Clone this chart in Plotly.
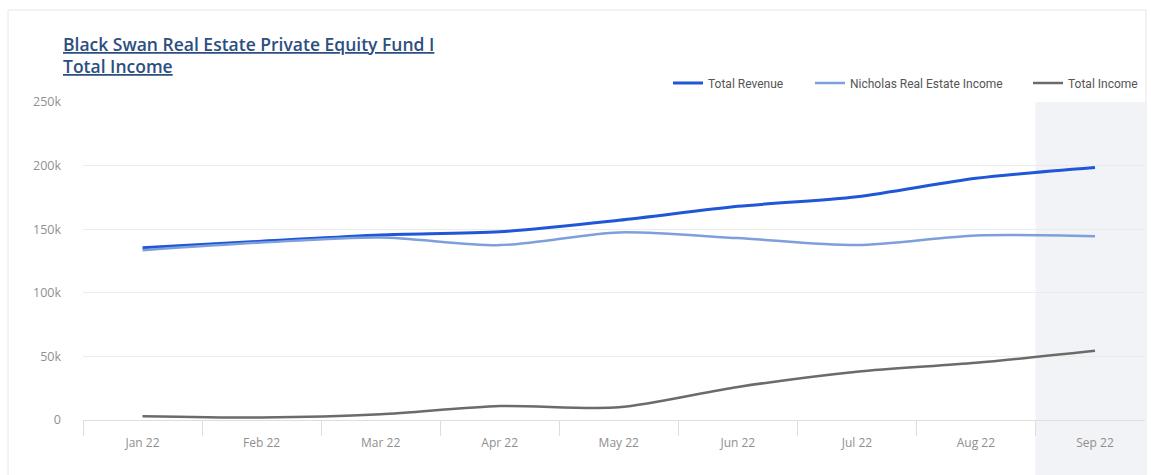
import plotly.graph_objects as go

months = ["Jan 22", "Feb 22", "Mar 22", "Apr 22", "May 22", "Jun 22", "Jul 22", "Aug 22", "Sep 22"]
total_revenue = [135500, 140500, 145500, 148000, 157000, 168000, 175500, 190000, 198500]
nicholas_income = [133500, 139500, 143500, 137500, 147500, 143000, 137500, 145000, 144500]
total_income = [3000, 2000, 4500, 11000, 10000, 26000, 38000, 45000, 54500]

W, H = 1151, 475
L, R, T, B = 83, 1145, 102, 420
pw, ph = R - L, B - T

def px_x(x):
    return (x - L) / pw

def px_y(y):
    return (B - y) / ph

fig = go.Figure()
fig.add_trace(go.Scatter(x=months, y=total_revenue, name="Total Revenue", mode="lines", legend="legend",
                         line=dict(color="#1f57d6", width=3, shape="spline", smoothing=0.8)))
fig.add_trace(go.Scatter(x=months, y=nicholas_income, name="Nicholas Real Estate Income", mode="lines",
                         legend="legend2",
                         line=dict(color="#7d9fdc", width=2.5, shape="spline", smoothing=0.8)))
fig.add_trace(go.Scatter(x=months, y=total_income, name="Total Income", mode="lines", legend="legend3",
                         line=dict(color="#6b6b6b", width=2.5, shape="spline", smoothing=0.8)))

# highlighted last category band
fig.add_shape(type="rect", xref="x", yref="paper", x0=7.5, x1=8.42, y0=px_y(476), y1=1,
              fillcolor="#f2f3f6", line_width=0, layer="below")
# card border
fig.add_shape(type="rect", xref="paper", yref="paper", x0=px_x(8), x1=px_x(1146), y0=px_y(478), y1=px_y(10),
              fillcolor="rgba(0,0,0,0)", line=dict(color="#e6e6e6", width=1), layer="below")

title_style = "text-decoration:underline"
for txt, ypx in [("Black Swan Real Estate Private Equity Fund I", 44), ("Total Income", 66)]:
    fig.add_annotation(xref="paper", yref="paper", x=px_x(61), y=px_y(ypx), xanchor="left", yanchor="middle",
                       text=f"<span style='{title_style}'>{txt}</span>",
                       showarrow=False, font=dict(family="Open Sans", size=17.5, weight=600, color="#2d4f7f"))

leg_font = dict(family="Roboto", size=12, color="#555")
def leg(xpx):
    return dict(orientation="h", xanchor="left", x=px_x(xpx), yanchor="middle", y=px_y(83),
                font=leg_font, bgcolor="rgba(0,0,0,0)", itemwidth=30)

fig.update_layout(
    width=W, height=H,
    margin=dict(l=L, r=W - R, t=T, b=H - B),
    paper_bgcolor="white", plot_bgcolor="rgba(0,0,0,0)",
    showlegend=True,
    legend=leg(668), legend2=leg(810), legend3=leg(1028),
    xaxis=dict(type="category", range=[-0.5, 8.42], showgrid=False, showline=True, linecolor="#dedede",
               ticks="outside", tickson="boundaries", ticklen=15, tickcolor="#dedede", ticklabelstandoff=12,
               tickfont=dict(family="Open Sans", size=12, color="#8f8f8f"), zeroline=False),
    yaxis=dict(range=[0, 250000], tickvals=[0, 50000, 100000, 150000, 200000, 250000],
               ticktext=["0", "50k", "100k", "150k", "200k", "250k"], showgrid=True, gridcolor="#ebebeb",
               zeroline=False, ticks="", ticklabelstandoff=21,
               tickfont=dict(family="Open Sans", size=12.5, color="#8f8f8f")),
)

fig.write_html("out.html")
